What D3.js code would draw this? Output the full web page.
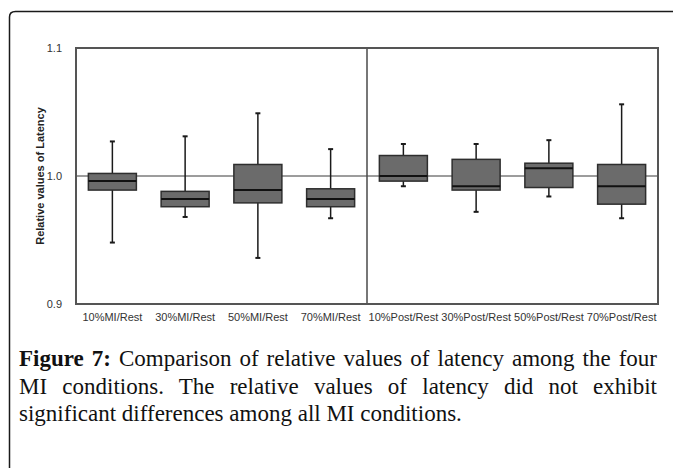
<!DOCTYPE html>
<html>
<head>
<meta charset="utf-8">
<script src="https://cdn.jsdelivr.net/npm/d3@7"></script>
<style>
  html, body { margin: 0; padding: 0; background: #fff; }
  body { width: 673px; height: 468px; overflow: hidden; position: relative; }
  svg { position: absolute; left: 0; top: 0; }
  #caption { position: absolute; left: 19px; top: 345px; width: 638px;
    font-family: "Liberation Serif", "Times New Roman", serif; font-size: 23px;
    line-height: 27.5px; color: #111; }
  #caption .j { text-align: justify; text-align-last: justify; }
  #caption b { font-weight: bold; }
</style>
</head>
<body>
<svg id="chart" width="673" height="468"></svg>
<div id="caption"></div>
<script>
// ---- data ----
const categories = ["10%MI/Rest", "30%MI/Rest", "50%MI/Rest", "70%MI/Rest",
                    "10%Post/Rest", "30%Post/Rest", "50%Post/Rest", "70%Post/Rest"];
const whiskerLow  = [0.948, 0.968, 0.936, 0.967, 0.992, 0.972, 0.984, 0.967];
const q1          = [0.989, 0.976, 0.979, 0.976, 0.996, 0.989, 0.991, 0.978];
const median      = [0.996, 0.982, 0.989, 0.982, 1.000, 0.992, 1.006, 0.992];
const q3          = [1.002, 0.988, 1.009, 0.990, 1.016, 1.013, 1.010, 1.009];
const whiskerHigh = [1.027, 1.031, 1.049, 1.021, 1.025, 1.025, 1.028, 1.056];
const yTicks = [0.9, 1.0, 1.1];
const referenceValue = 1.0;
const yTitle = "Relative values of Latency";
const captionLines = [
  "<b>Figure 7:</b> Comparison of relative values of latency among the four",
  "MI conditions. The relative values of latency did not exhibit",
  "significant differences among all MI conditions."
];

// ---- chart ----
const svg = d3.select("#chart");
const pLeft = 76, pRight = 658, pTop = 48, pBottom = 304;

const x = d3.scaleBand().domain(categories).range([pLeft, pRight])
  .paddingInner(0.34).paddingOuter(0.17);
const y = d3.scaleLinear().domain([0.9, 1.1]).range([pBottom, pTop]);

// outer figure frame (rounded top-left corner)
svg.append("path")
  .attr("d", "M9.5,470 L9.5,17 Q9.5,11.5 15.5,11.5 L680,11.5")
  .attr("fill", "none").attr("stroke", "#1a1a1a").attr("stroke-width", 1.5);

const rows = categories.map((c, i) => ({
  c, lo: whiskerLow[i], q1: q1[i], med: median[i], q3: q3[i], hi: whiskerHigh[i]
}));

// reference line at 1.0
svg.append("line")
  .attr("x1", pLeft).attr("x2", pRight)
  .attr("y1", y(referenceValue)).attr("y2", y(referenceValue))
  .attr("stroke", "#3a3a3a").attr("stroke-width", 1);

// divider between MI and Post groups
const divX = x(categories[4]) - x.step() * x.paddingInner() / 2;
svg.append("line")
  .attr("x1", divX).attr("x2", divX).attr("y1", pTop).attr("y2", pBottom)
  .attr("stroke", "#4a4a4a").attr("stroke-width", 1.5);

const g = svg.append("g").selectAll("g").data(rows).join("g");
const cx = d => x(d.c) + x.bandwidth() / 2;

// whiskers
g.append("line")
  .attr("x1", cx).attr("x2", cx)
  .attr("y1", d => y(d.hi)).attr("y2", d => y(d.lo))
  .attr("stroke", "#1a1a1a").attr("stroke-width", 1.5);
g.append("line").attr("x1", d => cx(d) - 2.5).attr("x2", d => cx(d) + 2.5)
  .attr("y1", d => y(d.hi)).attr("y2", d => y(d.hi))
  .attr("stroke", "#1a1a1a").attr("stroke-width", 2);
g.append("line").attr("x1", d => cx(d) - 2.5).attr("x2", d => cx(d) + 2.5)
  .attr("y1", d => y(d.lo)).attr("y2", d => y(d.lo))
  .attr("stroke", "#1a1a1a").attr("stroke-width", 2);

// boxes
g.append("rect")
  .attr("x", d => x(d.c)).attr("width", x.bandwidth())
  .attr("y", d => y(d.q3)).attr("height", d => y(d.q1) - y(d.q3))
  .attr("fill", "#6b6b6b").attr("stroke", "#2e2e2e").attr("stroke-width", 1.5);
// medians
g.append("line")
  .attr("x1", d => x(d.c)).attr("x2", d => x(d.c) + x.bandwidth())
  .attr("y1", d => y(d.med)).attr("y2", d => y(d.med))
  .attr("stroke", "#111").attr("stroke-width", 2);

// plot frame
svg.append("rect")
  .attr("x", pLeft).attr("y", pTop).attr("width", pRight - pLeft).attr("height", pBottom - pTop)
  .attr("fill", "none").attr("stroke", "#555").attr("stroke-width", 2);

// axes
const yAxis = svg.append("g").attr("transform", `translate(${pLeft},0)`)
  .call(d3.axisLeft(y).tickValues(yTicks).tickFormat(d3.format(".1f")).tickSize(0).tickPadding(14));
yAxis.select(".domain").remove();
yAxis.selectAll("text").attr("font-family", "Liberation Sans, Arial, sans-serif")
  .attr("font-size", 11).attr("fill", "#333");

const xAxis = svg.append("g").attr("transform", `translate(0,${pBottom})`)
  .call(d3.axisBottom(x).tickSize(0).tickPadding(9));
xAxis.select(".domain").remove();
xAxis.selectAll("text").attr("font-family", "Liberation Sans, Arial, sans-serif")
  .attr("font-size", 11).attr("fill", "#333");

svg.append("text")
  .attr("transform", `translate(44,${y(referenceValue)}) rotate(-90)`)
  .attr("text-anchor", "middle")
  .attr("font-family", "Liberation Sans, Arial, sans-serif")
  .attr("font-size", 11).attr("font-weight", "bold").attr("fill", "#222")
  .text(yTitle);

// caption
const cap = d3.select("#caption");
captionLines.forEach((line, i) => {
  cap.append("div").attr("class", i < captionLines.length - 1 ? "j" : "l").html(line);
});
</script>
</body>
</html>
